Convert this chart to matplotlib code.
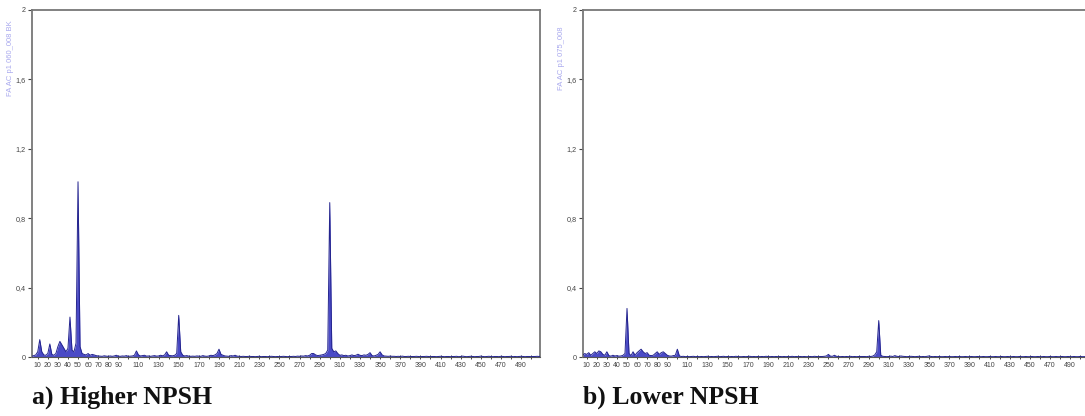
import numpy as np
import matplotlib
matplotlib.use("Agg")
import matplotlib.pyplot as plt
from matplotlib.ticker import FixedLocator, FuncFormatter

# ---- data -------------------------------------------------------------
freq = np.arange(4, 511, 2)  # frequency grid, Hz

amp_high = [
    0.004, 0.008, 0.012, 0.030, 0.100, 0.030, 0.012, 0.010, 0.020, 0.075,   # 4-22
    0.015, 0.010, 0.020, 0.060, 0.090, 0.070, 0.050, 0.030, 0.050, 0.230,   # 24-42
    0.040, 0.030, 0.080, 1.010, 0.060, 0.020, 0.015, 0.012, 0.020, 0.010,   # 44-62
    0.015, 0.012, 0.008, 0.006, 0.005, 0.004, 0.007, 0.005, 0.004, 0.006,   # 64-82
    0.004, 0.006, 0.010, 0.005, 0.004, 0.006, 0.005, 0.008, 0.004, 0.005,   # 84-102
    0.006, 0.010, 0.035, 0.012, 0.006, 0.008, 0.010, 0.005, 0.006, 0.004,   # 104-122
    0.006, 0.008, 0.005, 0.006, 0.010, 0.007, 0.012, 0.030, 0.010, 0.008,   # 124-142
    0.007, 0.010, 0.020, 0.240, 0.030, 0.010, 0.006, 0.008, 0.005, 0.004,   # 144-162
    0.005, 0.004, 0.006, 0.005, 0.004, 0.008, 0.005, 0.004, 0.006, 0.010,   # 164-182
    0.008, 0.012, 0.020, 0.045, 0.015, 0.010, 0.006, 0.005, 0.004, 0.008,   # 184-202
    0.006, 0.010, 0.005, 0.004, 0.003, 0.004, 0.003, 0.003, 0.004, 0.003,   # 204-222
    0.003, 0.002, 0.003, 0.004, 0.002, 0.003, 0.003, 0.002, 0.003, 0.004,   # 224-242
    0.003, 0.002, 0.003, 0.002, 0.003, 0.004, 0.003, 0.002, 0.003, 0.003,   # 244-262
    0.004, 0.003, 0.005, 0.004, 0.006, 0.005, 0.008, 0.006, 0.010, 0.020,   # 264-282
    0.020, 0.012, 0.008, 0.010, 0.012, 0.015, 0.020, 0.040, 0.890, 0.050,   # 284-302
    0.030, 0.035, 0.020, 0.010, 0.012, 0.008, 0.010, 0.006, 0.008, 0.012,   # 304-322
    0.008, 0.010, 0.016, 0.010, 0.008, 0.012, 0.010, 0.015, 0.025, 0.008,   # 324-342
    0.006, 0.010, 0.015, 0.030, 0.012, 0.006, 0.005, 0.004, 0.005, 0.004,   # 344-362
    0.004, 0.003, 0.004, 0.003, 0.005, 0.003, 0.003, 0.004, 0.003, 0.003,   # 364-382
    0.003, 0.004, 0.003, 0.002, 0.003, 0.003, 0.004, 0.003, 0.002, 0.003,   # 384-402
    0.003, 0.002, 0.003, 0.004, 0.003, 0.002, 0.003, 0.003, 0.002, 0.003,   # 404-422
    0.003, 0.004, 0.002, 0.003, 0.005, 0.003, 0.002, 0.003, 0.004, 0.003,   # 424-442
    0.002, 0.003, 0.003, 0.005, 0.003, 0.002, 0.003, 0.004, 0.003, 0.002,   # 444-462
    0.003, 0.003, 0.002, 0.004, 0.003, 0.002, 0.003, 0.003, 0.004, 0.002,   # 464-482
    0.003, 0.002, 0.003, 0.004, 0.003, 0.002, 0.003, 0.003, 0.002, 0.003,   # 484-502
    0.003, 0.004, 0.003, 0.006,                                             # 504-510
]

amp_low = [
    0.005, 0.010, 0.020, 0.015, 0.025, 0.010, 0.020, 0.030, 0.020, 0.035,   # 4-22
    0.030, 0.015, 0.010, 0.030, 0.008, 0.005, 0.010, 0.006, 0.008, 0.005,   # 24-42
    0.006, 0.010, 0.020, 0.280, 0.020, 0.008, 0.030, 0.010, 0.025, 0.035,   # 44-62
    0.045, 0.030, 0.020, 0.025, 0.010, 0.008, 0.010, 0.020, 0.030, 0.015,   # 64-82
    0.025, 0.030, 0.020, 0.010, 0.006, 0.005, 0.008, 0.010, 0.045, 0.006,   # 84-102
    0.003, 0.004, 0.002, 0.003, 0.002, 0.003, 0.004, 0.002, 0.003, 0.002,   # 104-122
    0.003, 0.002, 0.003, 0.004, 0.002, 0.003, 0.002, 0.003, 0.004, 0.002,   # 124-142
    0.003, 0.004, 0.002, 0.003, 0.002, 0.003, 0.002, 0.004, 0.003, 0.002,   # 144-162
    0.002, 0.003, 0.002, 0.003, 0.004, 0.002, 0.003, 0.002, 0.003, 0.002,   # 164-182
    0.003, 0.002, 0.004, 0.003, 0.002, 0.003, 0.002, 0.003, 0.002, 0.003,   # 184-202
    0.002, 0.003, 0.002, 0.003, 0.002, 0.004, 0.002, 0.003, 0.002, 0.003,   # 204-222
    0.002, 0.003, 0.002, 0.002, 0.003, 0.002, 0.004, 0.003, 0.002, 0.003,   # 224-242
    0.003, 0.004, 0.006, 0.015, 0.005, 0.004, 0.010, 0.004, 0.003, 0.002,   # 244-262
    0.003, 0.002, 0.003, 0.002, 0.004, 0.002, 0.003, 0.002, 0.003, 0.003,   # 264-282
    0.003, 0.003, 0.002, 0.004, 0.003, 0.005, 0.012, 0.030, 0.210, 0.010,   # 284-302
    0.004, 0.003, 0.002, 0.003, 0.005, 0.003, 0.008, 0.004, 0.003, 0.006,   # 304-322
    0.004, 0.003, 0.002, 0.003, 0.004, 0.003, 0.002, 0.003, 0.004, 0.002,   # 324-342
    0.003, 0.002, 0.004, 0.006, 0.003, 0.002, 0.003, 0.002, 0.003, 0.002,   # 344-362
    0.002, 0.003, 0.002, 0.003, 0.002, 0.002, 0.003, 0.002, 0.003, 0.002,   # 364-382
    0.002, 0.003, 0.002, 0.002, 0.003, 0.002, 0.002, 0.003, 0.002, 0.002,   # 384-402
    0.003, 0.002, 0.002, 0.003, 0.002, 0.002, 0.003, 0.002, 0.002, 0.003,   # 404-422
    0.002, 0.002, 0.003, 0.002, 0.002, 0.003, 0.002, 0.002, 0.003, 0.002,   # 424-442
    0.002, 0.003, 0.002, 0.002, 0.003, 0.002, 0.002, 0.003, 0.002, 0.002,   # 444-462
    0.003, 0.002, 0.002, 0.003, 0.002, 0.002, 0.003, 0.002, 0.002, 0.003,   # 464-482
    0.002, 0.002, 0.003, 0.002, 0.002, 0.003, 0.002, 0.002, 0.003, 0.002,   # 484-502
    0.002, 0.003, 0.002, 0.003,                                             # 504-510
]

ylabels = ["FA AC p1 060_008 BK", "FA AC p1 075_008"]
captions = ["a) Higher NPSH", "b) Lower NPSH"]
y_ticks = [0, 0.4, 0.8, 1.2, 1.6, 2.0]
x_major = [10, 20, 30, 40, 50, 60, 70, 80, 90] + list(range(110, 491, 20))
x_minor = list(range(10, 501, 10))

# ---- figure -----------------------------------------------------------
W, H = 1085, 416
fig = plt.figure(figsize=(W / 100, H / 100), dpi=100)
fig.patch.set_facecolor("white")

panels = [
    dict(x0=32, amp=amp_high, xlim=(4.3, 508.8), right=True),
    dict(x0=583, amp=amp_low, xlim=(6.3, 510.8), right=False),
]
axw = 508

def yfmt(v, pos):
    if abs(v) < 1e-9:
        return "0"
    if abs(v - round(v)) < 1e-9:
        return "%d" % round(v)
    return ("%.1f" % v).replace(".", ",")

for i, p in enumerate(panels):
    ax = fig.add_axes([p["x0"] / W, (H - 357) / H, axw / W, 347 / H])
    a = np.array(p["amp"])
    ax.fill_between(freq, 0, a, color="#4a4ac6", lw=0, zorder=2)
    ax.plot(freq, a, color="#24248e", lw=0.7, zorder=3)
    ax.set_xlim(*p["xlim"])
    ax.set_ylim(0, 2)
    ax.set_yticks(y_ticks)
    ax.yaxis.set_major_formatter(FuncFormatter(yfmt))
    ax.xaxis.set_major_locator(FixedLocator(x_major))
    ax.xaxis.set_minor_locator(FixedLocator(x_minor))
    ax.set_xticklabels([str(v) for v in x_major])
    for lab in ax.get_xticklabels() + ax.get_yticklabels():
        lab.set_family("Liberation Sans")
    ax.tick_params(axis="y", labelsize=5.2, labelcolor="#444444", color="#444444",
                   length=3, width=0.8, pad=1.5, direction="out")
    ax.tick_params(axis="x", which="major", labelsize=5.0, labelcolor="#444444",
                   color="#444444", length=2.5, width=0.7, pad=2, direction="inout")
    ax.tick_params(axis="x", which="minor", color="#444444", length=2.5,
                   width=0.7, direction="inout")
    for s in ["top", "left", "right", "bottom"]:
        ax.spines[s].set_color("#777777")
        ax.spines[s].set_linewidth(1.3)
    ax.spines["bottom"].set_linewidth(0.8)
    ax.spines["bottom"].set_color("#555555")
    if not p["right"]:
        ax.spines["right"].set_visible(False)
    ax.set_ylabel(ylabels[i], color="#a8a8ee", fontsize=5.5, labelpad=6,
                  family="Liberation Sans")
    ax.yaxis.set_label_coords(-0.036, 0.86)
    fig.text(p["x0"] / W, 1 - 404 / H, captions[i], fontsize=18.5,
             fontweight="bold", family="Liberation Serif", color="#111111",
             ha="left", va="baseline")

fig.savefig("out.png", dpi=100, facecolor="white")
